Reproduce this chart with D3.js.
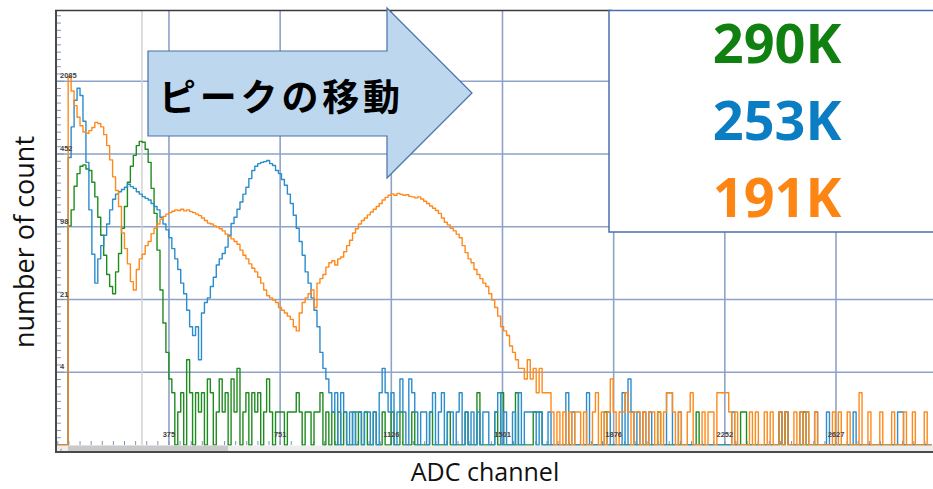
<!DOCTYPE html>
<html>
<head>
<meta charset="utf-8">
<script src="https://cdn.jsdelivr.net/npm/d3@7"></script>
<style>
  body { margin: 0; background: #fff; }
  svg { display: block; }
</style>
</head>
<body>
<svg id="chart" width="933" height="489"></svg>
<script>
// ---- data -------------------------------------------------------------
// counts per ADC bin; bin i covers channel i * channelStep
const channelStep = 10;

const greenCounts = [
  0,0,0,0,
  100,140,230,300,350,360,330,320,250,184,
  120,82,54,36,28,24,38,56,95,150,
  250,350,440,540,590,580,500,380,220,130,
  60,26,13,7,4,3,0,2,3,0,
  6,3,0,3,2,3,1,4,3,0,
  2,4,2,3,0,4,2,5,1,2,
  3,0,3,2,3,0,2,4,2,0,
  2,2,2,0,2,2,2,3,2,0,
  2,2,0,2,2,3,1,2,0,2,
  1,2,0,2,1,0,2,0,2,1,
  2,0,1,2,0,1,2,0,1,2,
  0,1,2,0,1,0,2,0,1,0,
  1,0,2,0,1,0,1,0,2,0,
  1,0,1,0,2,0,1,0,3,0,
  1,0,1,0,2,0,3,0,1,0,
  1,3,0,1,0,1,0,2,2,2,0,
  1,0,0,0,0,0,0,0,0,0,
  0,0,0,0,0,0,0,0,0,0,
  2,0,0,0,0,0,0,0,0,0,
  0,0,0,0,0,0,0,0,2,0,
  0,0,0,0,0,0,0,0,0,0,
  0,2,0,0,0,0,0,0,0,0,
  0,0,0,0,0,0,2,2,0,0,
  0,0,0,0,0,0,0,0,0,2,
  0,2,0,0,0,0,0,2,0,0,
  0,0,0,0,0,0,0,0,0,0,
  0,0,0,0,0,0,0,0,0,0,
  0,0,0,0,0,0,0,0,0,0,
  0,0,0,0,0,0,0,0,0,0,0
];

const blueCounts = [
  0,0,0,0,
  420,800,1400,1800,1550,900,380,140,55,30,
  50,66,82,104,140,175,195,205,215,225,
  240,228,220,205,195,185,178,172,160,150,
  140,120,104,92,78,62,50,40,30,24,
  17,12,10,12,6,16,20,22,28,34,
  44,50,56,64,82,105,120,142,165,195,
  225,270,320,350,370,380,386,395,370,355,
  320,300,265,235,195,160,125,95,72,54,
  38,30,22,17,12,7,5,4,3,2,
  3,1,3,2,0,2,1,2,2,0,
  2,2,0,2,1,3,5,3,2,3,
  0,2,4,2,1,4,3,2,0,2,
  2,0,2,3,1,2,3,0,2,2,
  0,2,3,1,2,0,2,1,2,0,
  2,2,0,1,2,3,0,2,1,0,
  2,0,3,1,2,2,2,2,0,2,1,
  0,2,0,1,0,1,0,3,0,2,
  0,1,0,0,3,0,1,0,0,1,
  0,2,0,1,0,0,3,1,4,2,
  0,2,0,2,0,2,0,1,0,0,
  1,3,3,0,1,2,0,0,1,0,
  0,0,0,0,1,0,0,1,0,0,
  0,1,0,2,0,0,0,0,0,0,
  0,0,0,0,0,0,0,0,0,2,
  0,2,0,0,0,0,2,0,2,0,
  0,2,0,0,0,2,0,0,0,0,
  0,0,0,0,2,0,0,0,0,0,
  0,0,0,0,0,0,0,0,0,2,
  2,0,0,0,0,0,0,0,0,0,0
];

const orangeCounts = [
  0,0,0,0,
  2300,1700,1250,980,820,720,700,740,790,880,
  860,800,680,540,400,280,210,150,86,62,
  45,31,26,40,50,55,66,72,85,95,
  104,115,122,128,132,136,140,138,142,137,
  140,135,132,128,124,118,112,106,104,100,
  98,94,90,84,80,76,72,68,60,54,
  50,45,41,38,34,30,26,23,22,21,
  20,18,17,16,15,14,12,11,16,20,
  22,24,26,18,30,33,36,42,46,48,
  44,50,52,58,66,74,86,94,104,112,
  118,126,134,142,150,160,172,182,190,196,
  190,198,194,190,192,186,184,180,184,176,
  168,160,152,145,138,130,118,108,102,95,
  90,84,78,66,57,50,46,40,36,33,
  30,28,24,21,18,15,12,11,10,8,
  7,6,5,5,4,6,4,5,3,5,3,
  3,3,2,1,2,0,2,1,2,0,
  2,2,0,2,1,0,2,3,0,2,
  0,2,4,2,0,2,2,3,2,0,
  2,2,0,2,0,2,2,0,2,0,
  2,3,3,2,0,2,0,0,2,3,
  0,0,0,2,0,2,2,0,3,3,
  3,3,2,0,2,0,0,0,0,2,
  0,2,0,0,2,0,2,0,0,2,
  0,2,0,0,2,0,2,0,2,0,
  0,2,0,0,0,0,0,2,0,2,
  0,0,2,0,0,0,3,0,0,2,
  0,0,0,2,0,0,0,2,0,0,
  0,2,0,0,2,0,0,0,2,0,0
];

// grid rows are spaced by a constant count ratio (log axis)
const gridBase = 4.6128;
const yTickLabels = ["4", "21", "98", "452", "2085"];
const xTickValues = [375.3, 750.6, 1125.9, 1501.2, 1876.5, 2251.8, 2627.1];
const xTickLabels = ["375", "751", "1126", "1501", "1876", "2252", "2627"];
const cursorChannel = 284;

const seriesNames = ["290K", "253K", "191K"];
const lineColors = ["#1f8c1f", "#2a8dcd", "#ff8a1c"];
const labelColors = ["#108010", "#0b7dc3", "#fd8513"];
const arrowLabel = "ピークの移動";
const xTitle = "ADC channel";
const yTitle = "number of count";

// ---- scales -----------------------------------------------------------
const svg = d3.select("#chart");
const x = d3.scaleLinear().domain([0, 2627.1]).range([57.8, 836]);
const y = d3.scaleLog().domain([1, Math.pow(gridBase, 6)]).range([445, 8.5]);
const plotLeft = 57, plotTop = 10, plotRight = 933, plotBottom = 445;

svg.append("defs").append("clipPath").attr("id", "plotClip")
  .append("rect").attr("x", plotLeft).attr("y", plotTop)
  .attr("width", plotRight - plotLeft).attr("height", plotBottom - plotTop + 1);

// ---- grid -------------------------------------------------------------
const gridColor = "#8ea3c7";
const yGridValues = d3.range(1, 6).map(k => Math.pow(gridBase, k));
svg.append("g").selectAll("line").data(yGridValues).join("line")
  .attr("x1", plotLeft).attr("x2", plotRight)
  .attr("y1", d => y(d)).attr("y2", d => y(d))
  .attr("stroke", gridColor).attr("stroke-width", 1.6);
svg.append("g").selectAll("line").data(xTickValues).join("line")
  .attr("x1", d => x(d)).attr("x2", d => x(d))
  .attr("y1", plotTop).attr("y2", plotBottom)
  .attr("stroke", gridColor).attr("stroke-width", 1.6);

// cursor marker
svg.append("line")
  .attr("x1", x(cursorChannel)).attr("x2", x(cursorChannel))
  .attr("y1", plotTop).attr("y2", plotBottom)
  .attr("stroke", "#d2d2d2").attr("stroke-width", 1.5);

// minor ticks along the left and bottom edges
const yStep = (y(1) - y(gridBase)) / 10;
const leftTicks = d3.range(0, 60).map(k => plotBottom - k * yStep);
svg.append("g").selectAll("line").data(leftTicks).join("line")
  .attr("x1", plotLeft).attr("x2", (d, i) => plotLeft + (i % 10 === 0 ? 7 : 4))
  .attr("y1", d => d).attr("y2", d => d)
  .attr("stroke", "#7f95c0").attr("stroke-width", 1);
const xStep = (x(375.3) - x(0)) / 10;
const bottomTicks = d3.range(0, 80).map(k => x(0) + k * xStep).filter(v => v < plotRight);
svg.append("g").selectAll("line").data(bottomTicks).join("line")
  .attr("x1", d => d).attr("x2", d => d)
  .attr("y1", plotBottom - 4).attr("y2", plotBottom)
  .attr("stroke", "#7f95c0").attr("stroke-width", 1);

// ---- spectra ----------------------------------------------------------
const line = d3.line()
  .x((d, i) => x(i * channelStep))
  .y(d => y(Math.max(1, d)))
  .curve(d3.curveStep);

const spectra = [greenCounts, blueCounts, orangeCounts];
svg.append("g").attr("clip-path", "url(#plotClip)")
  .selectAll("path").data(spectra).join("path")
  .attr("d", d => line(d))
  .attr("fill", "none")
  .attr("stroke", (d, i) => lineColors[i])
  .attr("stroke-width", 1.4)
  .attr("stroke-linejoin", "round");

// ---- tick labels ------------------------------------------------------
svg.append("g").selectAll("text").data(yGridValues).join("text")
  .attr("x", 60).attr("y", d => y(d) - 3)
  .attr("font-family", "Liberation Sans, Arial, sans-serif")
  .attr("font-size", 7.5).attr("font-weight", "bold").attr("fill", "#444")
  .text((d, i) => yTickLabels[i]);
svg.append("g").selectAll("text").data(xTickValues).join("text")
  .attr("x", d => x(d)).attr("y", 437)
  .attr("text-anchor", "middle")
  .attr("font-family", "Liberation Sans, Arial, sans-serif")
  .attr("font-size", 7.5).attr("font-weight", "bold").attr("fill", "#444")
  .text((d, i) => xTickLabels[i]);

// ---- frame, scrollbar -------------------------------------------------
svg.append("rect").attr("x", plotLeft).attr("y", 445.5)
  .attr("width", plotRight - plotLeft).attr("height", 5.5).attr("fill", "#ededed");
svg.append("rect").attr("x", 68).attr("y", 445.5)
  .attr("width", 160).attr("height", 5.5).attr("fill", "#c9c9c9");
svg.append("text").attr("x", 60).attr("y", 451)
  .attr("font-size", 6).attr("fill", "#555").attr("font-family", "Liberation Sans, sans-serif").text("‹");
svg.append("line").attr("x1", 55).attr("x2", plotRight).attr("y1", 452).attr("y2", 452)
  .attr("stroke", "#4a4a4a").attr("stroke-width", 2);
svg.append("line").attr("x1", 56).attr("x2", 56).attr("y1", 10).attr("y2", 452)
  .attr("stroke", "#4a4a4a").attr("stroke-width", 2);
svg.append("line").attr("x1", 55).attr("x2", 612).attr("y1", 10.5).attr("y2", 10.5)
  .attr("stroke", "#3a3a3a").attr("stroke-width", 1.5);

// ---- arrow annotation -------------------------------------------------
const arrowPts = [[148,51],[387,51],[387,8],[472,93],[387,178],[387,136],[148,136]];
svg.append("polygon")
  .attr("points", arrowPts.map(p => p.join(",")).join(" "))
  .attr("fill", "#bdd7ee").attr("stroke", "#4a70a8").attr("stroke-width", 1.2);
svg.append("text")
  .attr("x", 159).attr("y", 95)
  .attr("dominant-baseline", "central")
  .attr("font-family", "Noto Sans CJK JP, sans-serif")
  .attr("font-weight", "bold").attr("font-size", 37)
  .attr("textLength", 241).attr("lengthAdjust", "spacing")
  .attr("fill", "#000")
  .text(arrowLabel);

// ---- temperature legend -----------------------------------------------
svg.append("rect").attr("x", 609).attr("y", 10.5).attr("width", 340).attr("height", 221.5)
  .attr("fill", "#fff").attr("stroke", "#4a6fb0").attr("stroke-width", 1.5);
const legendBaselines = [63, 140, 217];
svg.append("g").selectAll("text").data(seriesNames).join("text")
  .attr("x", 777).attr("y", (d, i) => legendBaselines[i])
  .attr("text-anchor", "middle")
  .attr("font-family", "Open Sans, sans-serif")
  .attr("font-weight", "bold").attr("font-size", 54)
  .attr("fill", (d, i) => labelColors[i])
  .text(d => d);

// ---- axis titles ------------------------------------------------------
svg.append("text").attr("x", 485).attr("y", 481)
  .attr("text-anchor", "middle")
  .attr("font-family", "Open Sans, sans-serif").attr("font-size", 25).attr("fill", "#111")
  .text(xTitle);
svg.append("text")
  .attr("transform", "translate(34,242) rotate(-90)")
  .attr("text-anchor", "middle")
  .attr("font-family", "Open Sans, sans-serif").attr("font-size", 27).attr("fill", "#111")
  .text(yTitle);
</script>
</body>
</html>
